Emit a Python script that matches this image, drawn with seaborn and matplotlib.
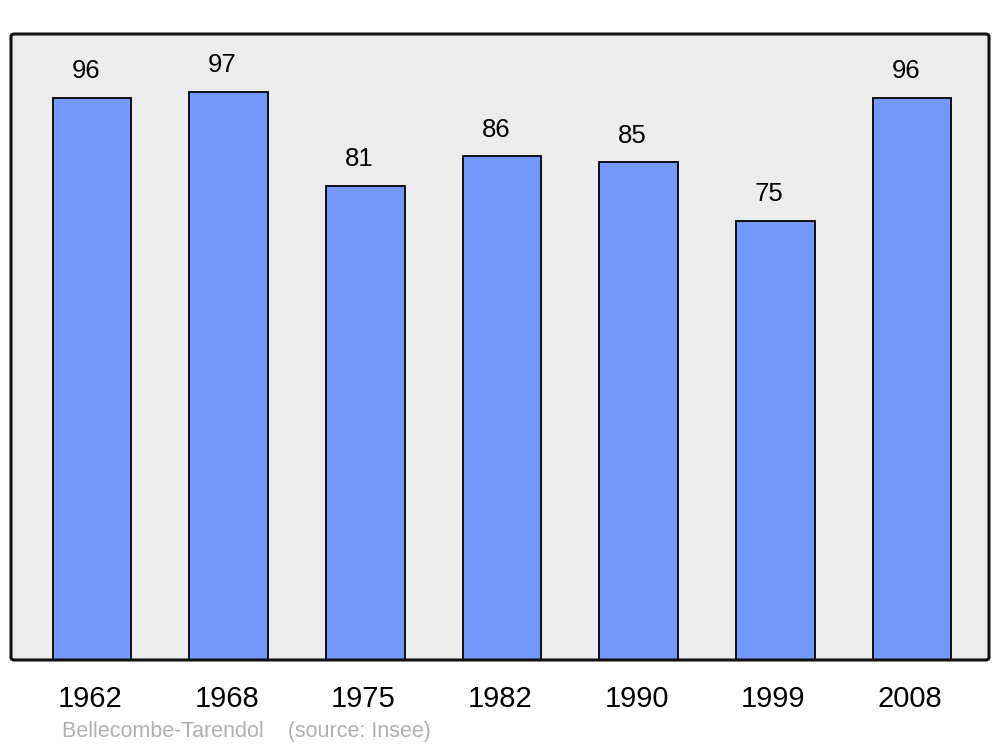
import matplotlib
matplotlib.use("Agg")
import matplotlib.pyplot as plt
import matplotlib.transforms as mtransforms
import seaborn as sns
import pandas as pd
from matplotlib.patches import FancyBboxPatch

years = ["1962", "1968", "1975", "1982", "1990", "1999", "2008"]
population = [96, 97, 81, 86, 85, 75, 96]
source_text = "Bellecombe-Tarendol    (source: Insee)"

sns.set_style("white")
plt.rcParams['font.family'] = ['Liberation Sans', 'DejaVu Sans']

df = pd.DataFrame({"year": years, "pop": population})

fig = plt.figure(figsize=(10, 7.47), dpi=100)
ax = fig.add_axes([0.011, 87 / 747, 0.978, 626 / 747])
ax.set_facecolor("#ececec")

sns.barplot(data=df, x="year", y="pop", order=years, color="#7399ff",
            saturation=1, edgecolor="black", linewidth=1.3, width=0.575, ax=ax)

ax.set_xlim(-0.593, 6.563)
ax.set_ylim(0, 106.9)
ax.set_xlabel("")
ax.set_ylabel("")
ax.set_yticks([])
ax.tick_params(axis="x", length=0, pad=18, labelsize=21, labelcolor="black")
shift = mtransforms.ScaledTranslation(-2 / 100, 0, fig.dpi_scale_trans)
for lbl in ax.get_xticklabels():
    lbl.set_transform(lbl.get_transform() + shift)
for sp in ax.spines.values():
    sp.set_visible(False)

frame = FancyBboxPatch((0, 0), 1, 1, boxstyle="round,pad=0,rounding_size=0.004",
                       transform=ax.transAxes, fill=False, edgecolor="#111111",
                       linewidth=2.2, clip_on=False, zorder=5)
ax.add_patch(frame)

for i, v in enumerate(population):
    ax.annotate(str(v), xy=(i, v), xytext=(-4.5, 10.5), textcoords="offset points",
                ha="center", va="bottom", fontsize=18.5, color="black")

fig.text(0.062, 1 - 731 / 747, source_text, fontsize=15.5, color="#b0b0b0",
         ha="left", va="center")

fig.savefig("out.png", dpi=100, facecolor="white")
